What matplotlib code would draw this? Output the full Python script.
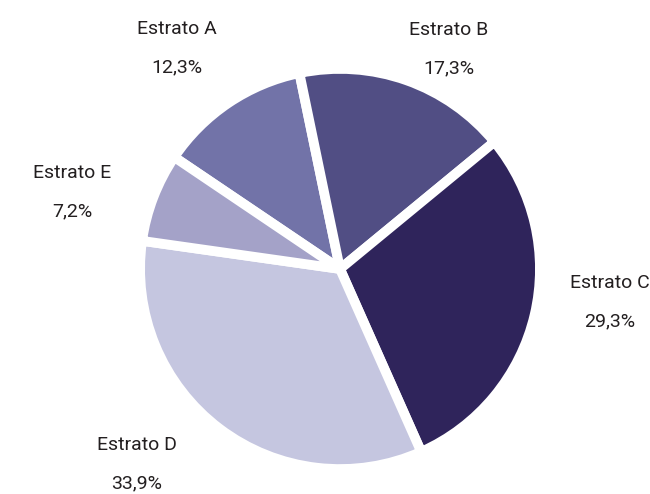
import matplotlib
matplotlib.use("Agg")
import matplotlib.pyplot as plt

estratos = ["Estrato A", "Estrato B", "Estrato C", "Estrato D", "Estrato E"]
valores = [12.3, 17.3, 29.3, 33.9, 7.2]
etiquetas = ["12,3%", "17,3%", "29,3%", "33,9%", "7,2%"]
cores = ["#7273A8", "#514E84", "#2F245B", "#C5C6E0", "#A4A2C8"]

# label anchor points (pixel centres in the 650x494 figure)
pos_labels = [(177, 48), (449, 49), (610, 302), (137, 464), (72, 192)]

plt.rcParams['font.family'] = ['Roboto', 'DejaVu Sans']

fig = plt.figure(figsize=(6.5, 4.94), dpi=100)
ax = fig.add_axes([0.2201, 0.0565, 0.606, 0.798])

ax.pie(valores, colors=cores, startangle=146, counterclock=False, radius=1.015,
       wedgeprops=dict(edgecolor="white", linewidth=7, joinstyle="round"))
ax.set_xlim(-1, 1)
ax.set_ylim(-1, 1)
ax.set_aspect("auto")

for nome, pct, (px, py) in zip(estratos, etiquetas, pos_labels):
    fx, fy = px / 650, 1 - py / 494
    fig.text(fx, fy + 0.039, nome, ha="center", va="center", fontsize=14, color="#231F20")
    fig.text(fx, fy - 0.039, pct, ha="center", va="center", fontsize=14, color="#231F20")

fig.savefig("out.png", dpi=100)
